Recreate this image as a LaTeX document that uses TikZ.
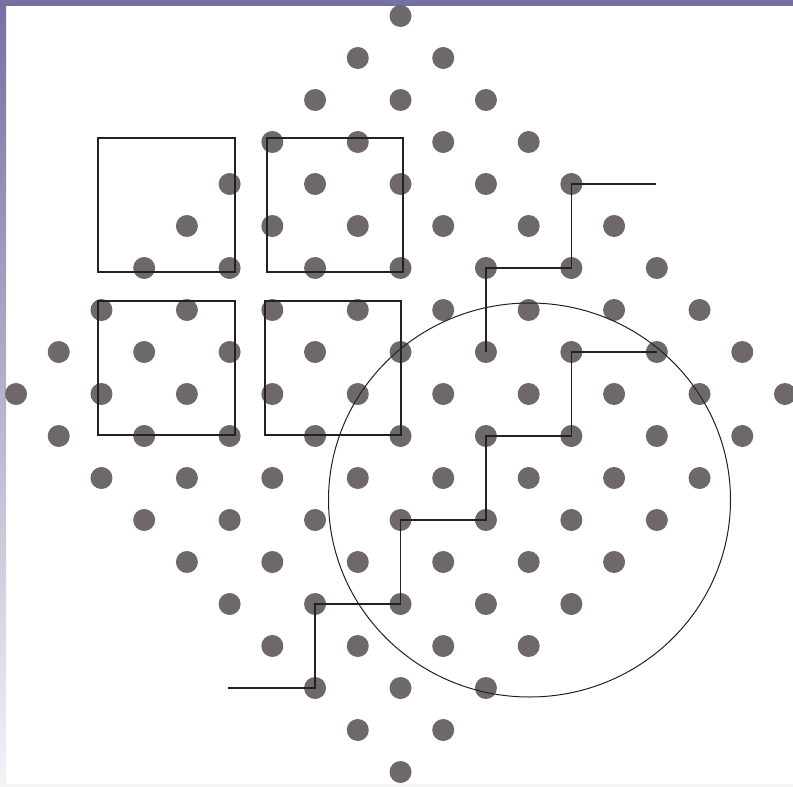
\documentclass[tikz,border=0pt]{standalone}
\begin{document}
\begin{tikzpicture}[x=1pt,y=-1pt,
  dotnode/.style={circle,fill=dotcol,draw=none,minimum size=22pt,inner sep=0pt},
  stair/.style={draw=linecol,line width=1.3pt,line join=miter},
  boxline/.style={draw=linecol,line width=1.3pt},
  ring/.style={draw=linecol,line width=1pt}]
\definecolor{dotcol}{RGB}{110,104,107}
\definecolor{linecol}{RGB}{34,34,34}
\definecolor{barcol}{RGB}{117,113,163}
\definecolor{barlight}{RGB}{243,243,248}
% canvas
\fill[white] (0,0) rectangle (793,787);
\useasboundingbox (0,0) rectangle (793,787);
\fill[barcol] (0,0) rectangle (793,6);
\shade[top color=barcol,bottom color=barlight] (0,6) rectangle (6,787);
\fill[black!4] (6,784) rectangle (793,787);
% dots
\foreach \j in {0,...,18}{
  \foreach \i in {-9,...,9}{
    \pgfmathtruncatemacro\ok{((abs(\i)+abs(\j-9))<=9)&&(mod(abs(\i+\j),2)==0)}
    \pgfmathtruncatemacro\ii{\i+9}
    \ifnum\ok=1
      \node[dotnode] (d\ii r\j) at ({400.5+42.72*\i},{16+42*\j}) {};
    \fi
  }
}
% squares
\draw[boxline] (98,138) rectangle (235,272);
\draw[boxline] (267,138) rectangle (403,272);
\draw[boxline] (98,301) rectangle (235,435);
\draw[boxline] (265,301) rectangle (401,435);
% circle
\draw[ring] (529.5,500) ellipse [x radius=201, y radius=197];
% staircases
\coordinate (s1) at (228,688);
\coordinate (e2) at (656,184);
\draw[stair] (s1) -- (d7r16.center) -- (d7r14.center) -- (d9r14.center)
  -- (d9r12.center) -- (d11r12.center) -- (d11r10.center) -- (d13r10.center)
  -- (d13r8.center) -- (d15r8.center);
\draw[stair] (d11r8.center) -- (d11r6.center) -- (d13r6.center)
  -- (d13r4.center) -- (e2);
\end{tikzpicture}
\end{document}
